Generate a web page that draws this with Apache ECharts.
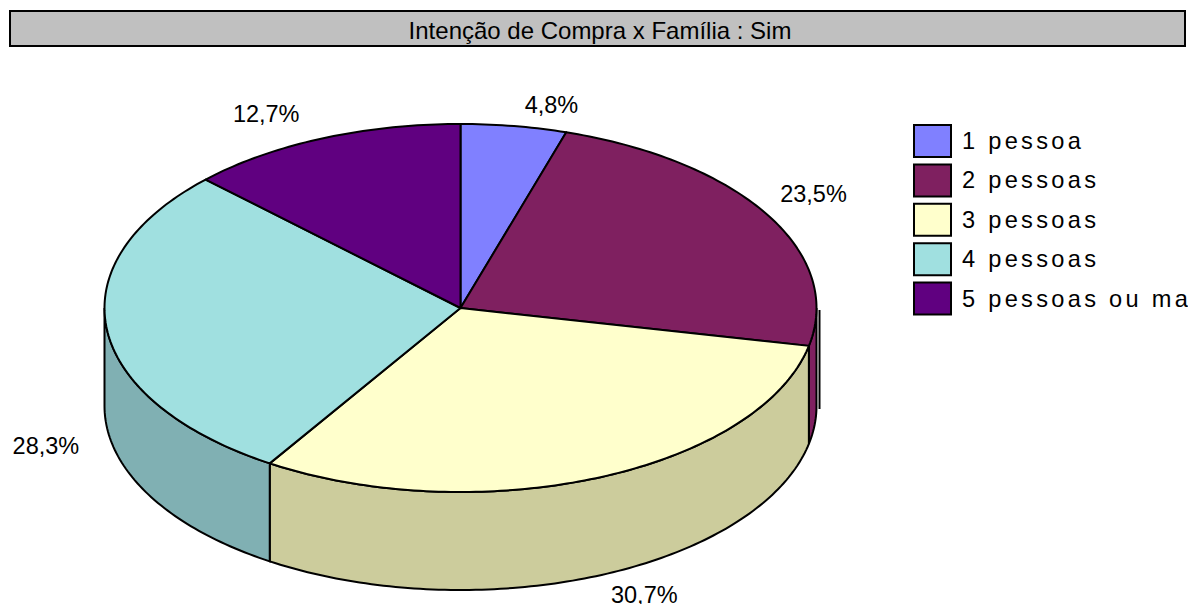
<!DOCTYPE html>
<html><head><meta charset="utf-8">
<style>
html,body{margin:0;padding:0;background:#fff;overflow:hidden}
#c{width:1188px;height:604px}
/* the original's legend text is set wider than the font's natural advance */
#c text[style*="23.6px"]{letter-spacing:3.3px}
</style>
<script src="https://cdn.jsdelivr.net/npm/echarts@6/dist/echarts.min.js"></script>
</head><body><div id="c"></div>
<script>
const categories = ['1 pessoa','2 pessoas','3 pessoas','4 pessoas','5 pessoas ou mais'];
const values = [4.8,23.5,30.7,28.3,12.7];
const topColors = ['#8080FF','#7F2060','#FFFFCC','#A0E0E0','#600080'];
const wallColors = ['#6666CC','#7F2060','#CCCC9C','#80B0B3','#4D0066'];
const titleText = 'Intenção de Compra x Família : Sim';
// pie geometry
const CX=460.5, CY=308, RX=356, RY=184, DEPTH=98;
const labelOffsets = [[37.5,-21],[46,-21],[45.5,19],[-61,18.5],[-56,-24]];

const total = values.reduce((a,b)=>a+b,0);
const starts = values.map((_,i)=>values.slice(0,i).reduce((a,b)=>a+b,0)/total*360);
const pt=(deg,dy)=>{const r=deg*Math.PI/180;return [CX+RX*Math.sin(r),CY-RY*Math.cos(r)+dy];};
function arc(a,b,dy){const out=[];const n=Math.max(2,Math.ceil(Math.abs(b-a)));for(let k=0;k<=n;k++)out.push(pt(a+(b-a)*k/n,dy));return out;}

function renderSlice(i){
  return function(params,api){
    const a0=starts[i], a1=a0+api.value(0)/total*360, mid=(a0+a1)/2;
    const children=[];
    const w0=Math.max(a0,90), w1=Math.min(a1,270);
    if(w1>w0){
      const pts=arc(w0,w1,0).concat(arc(w1,w0,DEPTH));
      children.push({type:'polygon',shape:{points:pts},style:{fill:wallColors[i],stroke:'#000',lineWidth:2}});
      if(a0<90&&a1>90){
        // the detached silhouette line at the pie's right edge
        const e=pt(90,0);
        children.push({type:'line',shape:{x1:e[0]+3,y1:e[1]+2,x2:e[0]+3,y2:e[1]+DEPTH+3},style:{stroke:'#000',lineWidth:2}});
      }
    }
    children.push({type:'polygon',shape:{points:[[CX,CY]].concat(arc(a0,a1,0))},style:{fill:topColors[i],stroke:'#000',lineWidth:2,lineJoin:'round'}});
    const m=pt(mid,mid>90&&mid<270?DEPTH:0), o=labelOffsets[i];
    children.push({type:'text',style:{text:String(api.value(0).toFixed(1)).replace('.',',')+'%',x:m[0]+o[0],y:m[1]+o[1],align:'center',verticalAlign:'middle',fill:'#000',font:'23.5px "Liberation Sans"'},z2:10});
    return {type:'group',children};
  };
}

const chart=echarts.init(document.getElementById('c'),null,{renderer:'svg'});
chart.setOption({
  animation:false,
  backgroundColor:'#fff',
  title:{text:titleText,left:595,top:13,textAlign:'center',textStyle:{fontFamily:'Liberation Sans',fontSize:24,fontWeight:'normal',color:'#000'}},
  graphic:[{type:'rect',z:-1,shape:{x:10,y:11,width:1175,height:35},style:{fill:'#C0C0C0',stroke:'#000',lineWidth:2}}],
  legend:{orient:'vertical',left:908,top:119,itemWidth:37,itemHeight:32,itemGap:5.4,icon:'rect',data:categories,
    textStyle:{fontFamily:'Liberation Sans',fontSize:23.6,color:'#000',padding:[0,0,0,6]},
    itemStyle:{borderColor:'#000',borderWidth:2}},
  series:categories.map((name,i)=>({type:'custom',name,coordinateSystem:'none',silent:true,
    data:[[values[i]]],encode:{value:0},itemStyle:{color:topColors[i]},renderItem:renderSlice(i)}))
});
</script></body></html>
